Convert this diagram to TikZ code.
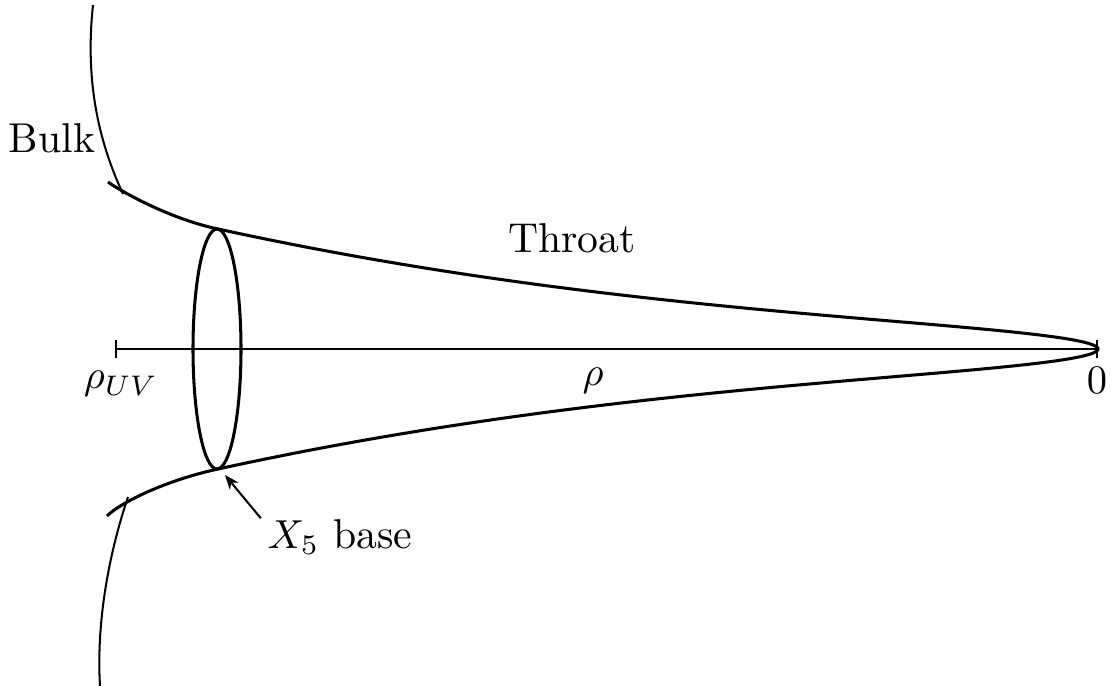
\documentclass[tikz,border=0pt]{standalone}
\usetikzlibrary{arrows.meta}
\begin{document}
\begin{tikzpicture}[x=0.2469pt,y=-0.2469pt,
  throatline/.style={line width=0.75pt},
  bulkline/.style={line width=0.5pt},
  axisline/.style={line width=0.55pt},
  lbl/.style={inner sep=0pt,anchor=base,font=\fontsize{10.3}{12}\selectfont}]
\useasboundingbox (0,0) rectangle (1119,686);
% axis
\coordinate (axl) at (115,349);
\coordinate (axr) at (1098,349);
\draw[axisline,{Bar[width=4.3pt]}-{Bar[width=4.3pt]}] (axl) -- (axr);
% throat
\draw[throatline] (108,182) .. controls (119,190) and (168,218.5) .. (218,229)
  -- plot[domain=1:-1,samples=201,variable=\s]
     ({1098-880*\s*\s},{349-54*\s-66*\s*\s*\s*\s*\s})
  .. controls (168,479.5) and (121,502) .. (107,516);
% bulk
\draw[bulkline] (93,5) .. controls (85,80) and (98,140) .. (123,194);
\draw[bulkline] (128,497) .. controls (110,550) and (96,620) .. (100,686);
% X5 circle
\draw[throatline] (217,349) ellipse [x radius=24, y radius=120];
% labels
\node[lbl] (bulk) at (52,153) {Bulk};
\node[lbl] (throat) at (572,253) {Throat};
\node[lbl] (rhouv) at (121,389) {$\rho_{UV}$};
\node[lbl] (rho) at (593,385) {$\rho$};
\node[lbl] (zero) at (1097,394) {$0$};
\node[lbl] (x5) at (340,548) {$X_5$ base};
\coordinate (tip) at (225,475);
\draw[bulkline,-{Stealth[length=3.6pt,width=2.8pt]}] ([xshift=-1.5pt]x5.north west) -- (tip);
\end{tikzpicture}
\end{document}
